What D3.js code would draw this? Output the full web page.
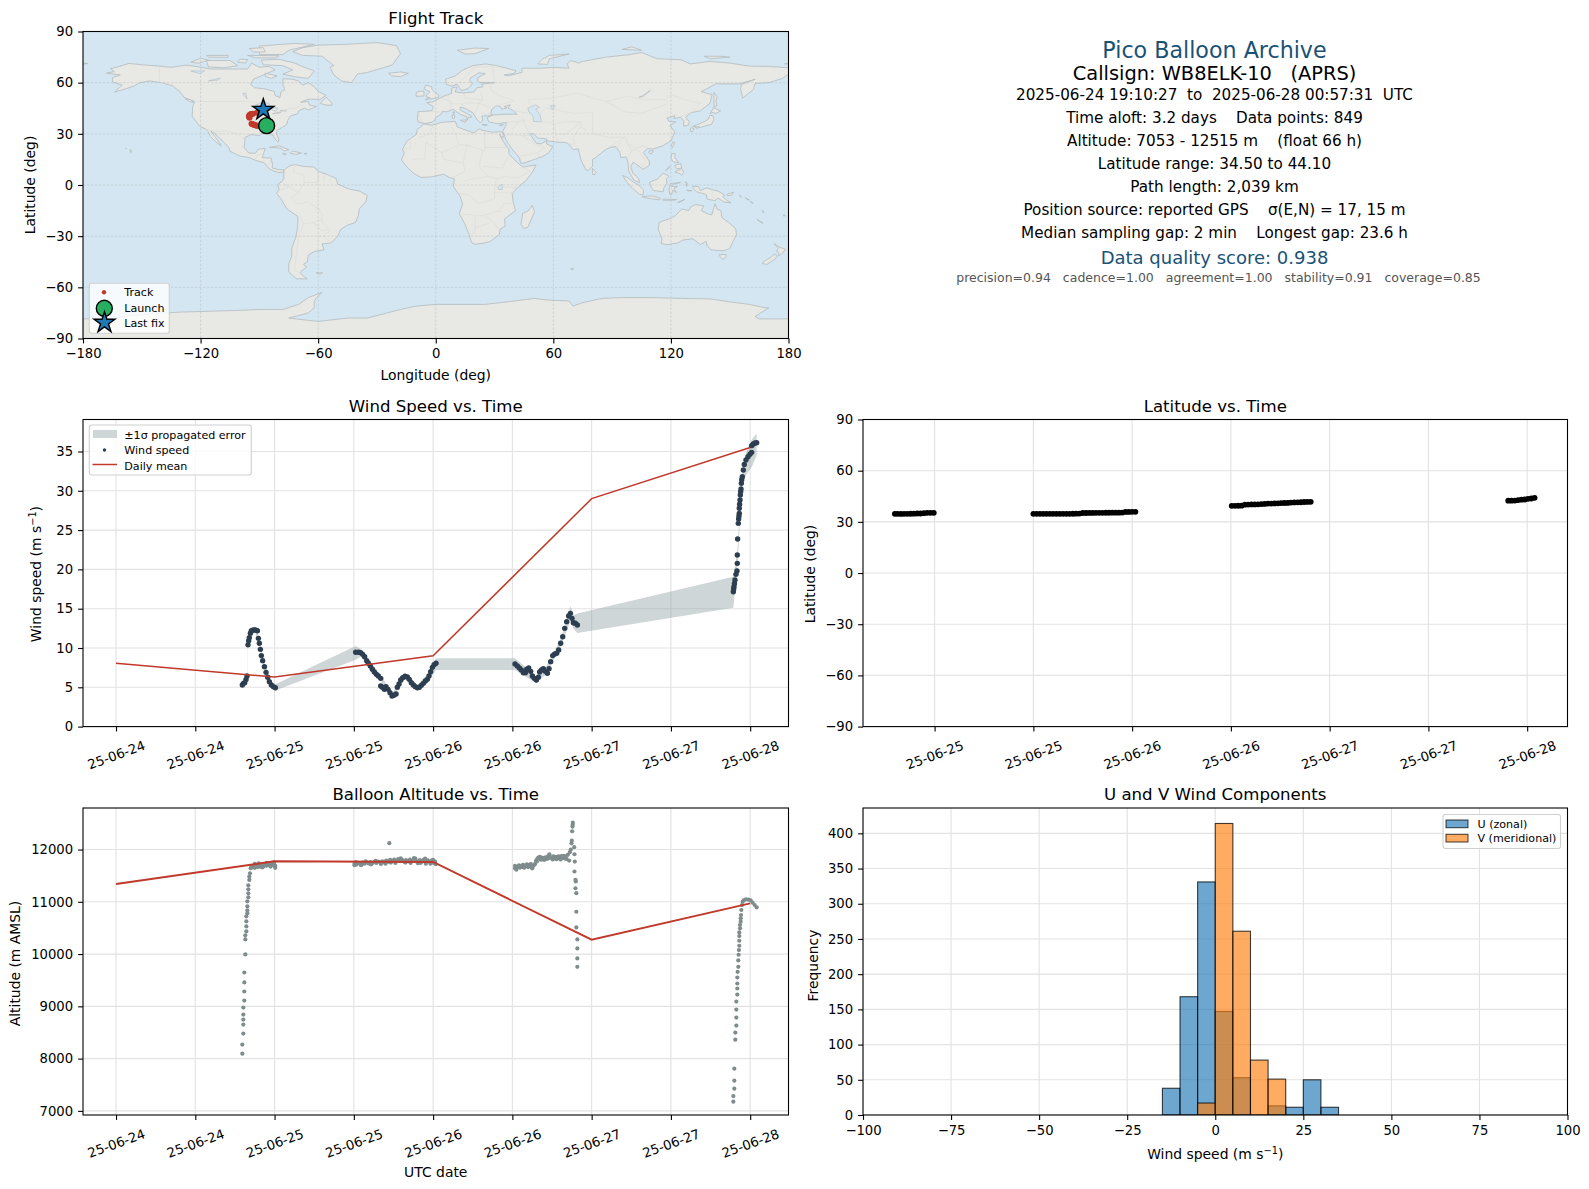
<!DOCTYPE html>
<html lang="en">
<head>
<meta charset="UTF-8">
<title>Pico Balloon Archive</title>
<script src="https://d3js.org/d3.v7.min.js"></script>
<style>
    html, body { margin: 0; padding: 0; background: #fff; }
    svg { display: block; }
    text { font-family: "DejaVu Sans", sans-serif; fill: #000; }
</style>
</head>
<body>
<svg id="fig" width="1589" height="1189"></svg>
<script>
// ---- time ticks, hours after 2025-06-24 00:00 UTC
const dateTickHours = [0, 12, 24, 36, 48, 60, 72, 84, 96];
const dateTickLabels = ["25-06-24", "25-06-24", "25-06-25", "25-06-25", "25-06-26", "25-06-26", "25-06-27", "25-06-27", "25-06-28"];
const latTickHours = [24, 36, 48, 60, 72, 84, 96];
const latTickLabels = ["25-06-25", "25-06-25", "25-06-26", "25-06-26", "25-06-27", "25-06-27", "25-06-28"];

// ---- header text
const headerLines = [
    "2025-06-24 19:10:27  to  2025-06-28 00:57:31  UTC",
    "Time aloft: 3.2 days    Data points: 849",
    "Altitude: 7053 - 12515 m    (float 66 h)",
    "Latitude range: 34.50 to 44.10",
    "Path length: 2,039 km",
    "Position source: reported GPS    σ(E,N) = 17, 15 m",
    "Median sampling gap: 2 min    Longest gap: 23.6 h"
];

// ---- daily means
const meanHours = [0, 24, 48, 72, 96];
const meanWind = [8.05, 6.3, 9.0, 29.0, 35.5];
const meanAlt = [11340, 11775, 11762, 10275, 10970];

// ---- wind speed readings: [hour, m/s]
const windPoints = [
    [19.12,5.29],[19.28,5.5],[19.48,5.59],[19.68,6.0],[19.83,6.44],[19.98,10.4],[20.08,10.93],[20.18,11.32],[20.34,11.87],[20.49,12.2],[20.79,12.29],[21.09,12.29],[21.4,12.2],
    [21.55,11.23],[21.7,10.6],[21.85,9.83],[22.0,9.03],[22.2,8.39],[22.46,7.63],[22.71,6.9],[22.96,6.27],[23.21,5.72],[23.51,5.29],[23.82,5.08],[24.12,4.95],
    [36.28,9.45],[36.69,9.45],[37.04,9.41],[37.34,9.19],[37.64,8.9],[37.95,8.39],[38.2,8.05],[38.5,7.71],[38.8,7.29],[39.1,6.95],[39.41,6.65],[39.71,6.44],[40.07,6.14],
    [40.07,5.17],[40.32,5.0],[40.62,4.74],[40.87,5.08],[41.18,4.74],[41.48,4.32],[41.78,3.9],[42.08,3.98],[42.39,4.15],[42.59,5.0],[42.84,5.42],[43.09,5.93],[43.4,6.23],
    [43.75,6.4],[44.1,6.31],[44.4,6.01],[44.71,5.59],[45.01,5.29],[45.31,5.08],[45.62,4.95],[45.92,5.0],[46.22,5.25],[46.52,5.5],[46.83,5.8],[47.13,6.01],[47.38,6.44],
    [47.63,6.99],[47.89,7.54],[48.14,7.88],[48.44,8.05],
    [60.4,7.97],[60.75,7.71],[61.06,7.46],[61.36,7.2],[61.66,6.86],[61.97,6.86],[62.17,7.29],[62.47,7.46],[62.77,7.03],[63.03,6.44],[63.33,6.14],[63.63,5.93],[63.93,6.27],
    [64.13,6.95],[64.39,7.2],[64.69,7.37],[64.99,7.03],[65.3,6.78],[65.55,7.37],[65.8,8.26],[66.1,9.03],[66.41,9.24],[66.71,9.32],[67.01,9.75],[67.31,10.6],[67.62,11.44],
    [67.92,12.5],[68.22,13.35],[68.52,14.07],[68.78,14.41],[69.03,13.77],[69.23,13.22],[69.53,13.14],[69.84,12.93],
    [93.45,17.16],[93.5,17.5],[93.55,17.8],[93.62,18.2],[93.7,18.65],[93.85,19.37],[94.0,19.79],[94.05,20.77],[94.05,21.83],[94.1,23.86],[94.2,25.86],[94.25,26.41],[94.3,26.8],
    [94.35,27.13],[94.35,27.77],[94.4,28.3],[94.46,28.83],[94.51,29.46],[94.56,29.9],[94.61,30.23],[94.66,30.95],[94.72,31.4],[94.81,31.8],[94.96,32.64],[95.11,33.36],
    [95.36,33.91],[95.67,34.34],[95.97,34.64],[96.22,34.89],[96.22,35.74],[96.47,35.95],[96.73,36.08],[96.98,36.12]
];

// ---- propagated error band, sparse readings
const bandHours = [19.12,19.83,19.98,20.49,21.09,21.55,22.46,23.51,24.12,36.28,37.04,38.2,40.07,41.78,43.75,45.62,47.38,48.44,60.4,63.63,65,67.31,68.78,69.3,69.84,93.45,94.05,94.81,95.36,96.22,96.98];
const bandLow = [4.9,6.0,10.0,11.8,11.9,10.8,7.2,4.9,4.6,8.5,8.9,7.6,5.8,3.6,6.0,4.6,6.0,7.2,7.2,5.5,6.6,10.1,13.4,12.4,11.9,15.13,20.2,31.0,32.0,33.0,34.5];
const bandHigh = [5.7,6.9,10.9,12.6,12.7,11.6,8.1,5.7,5.4,10.25,9.9,8.5,6.6,4.2,6.8,5.3,6.9,8.7,8.7,6.4,7.5,11.1,15.3,14.2,14.4,19.07,22.4,32.6,34.8,36.5,37.3];

// ---- altitude readings: [hour, m]
const altPoints = [
    [19.12,8095],[19.12,8268],[19.27,8479],[19.27,8651],[19.27,8747],[19.27,8843],[19.27,8977],[19.42,9111],[19.42,9284],[19.42,9457],[19.42,9648],[19.57,9993],[19.57,10281],
    [19.57,10358],[19.73,10435],[19.73,10530],[19.73,10626],[19.73,10722],[19.88,10780],[19.88,10837],[19.88,10914],[19.88,11010],[20.03,11087],[20.03,11163],[20.03,11240],
    [20.03,11317],[20.18,11419],[20.18,11483],[20.28,11547],[20.38,11643],[20.53,11675],
    [20.7,11660],[20.85,11690],[21.0,11650],[21.15,11680],[21.3,11700],[21.45,11665],[21.6,11690],[21.75,11710],[21.9,11670],[22.05,11695],[22.2,11715],[22.35,11680],[22.5,11700],
    [22.65,11725],[22.8,11690],[22.95,11710],[23.1,11735],[23.25,11700],[23.4,11720],[23.55,11745],[23.7,11705],[23.85,11725],[24.0,11700],[24.1,11650],[24.1,11690],
    [21.0,11725],[21.6,11735],[22.2,11660],[22.8,11745],[23.4,11675],[23.9,11755],
    [36.1,11700],[36.1,11730],[36.4,11715],[36.7,11745],[37.0,11725],[37.3,11750],[37.6,11730],[37.9,11755],[38.2,11735],[38.5,11760],[38.8,11740],[39.1,11765],[39.4,11745],
    [39.7,11770],[40.0,11750],[40.3,11775],[40.6,11755],[40.9,11790],[41.2,11765],[41.37,12122],[41.5,11805],[41.8,11780],[42.1,11810],[42.4,11785],[42.7,11815],[43.0,11780],
    [43.3,11805],[43.6,11770],[43.9,11800],[44.2,11775],[44.5,11810],[44.8,11780],[45.1,11835],[45.4,11790],[45.7,11740],[46.0,11800],[46.3,11770],[46.6,11810],[46.9,11730],
    [47.2,11795],[47.5,11760],[47.8,11790],[48.1,11745],[48.3,11770],[48.4,11720],
    [36.3,11760],[37.1,11700],[37.8,11775],[38.6,11715],[39.3,11785],[40.1,11725],[40.8,11730],[41.6,11750],[42.3,11745],[43.1,11830],[43.8,11750],[44.6,11745],[45.3,11825],[46.1,11745],[46.8,11825],[47.6,11730],[48.0,11805],
    [60.4,11643],[60.4,11690],[60.6,11615],[60.8,11670],[61.0,11700],[61.2,11660],[61.4,11690],[61.6,11705],[61.8,11655],[62.0,11700],[62.2,11715],[62.4,11665],[62.6,11705],
    [62.8,11720],[63.0,11640],[63.2,11690],[63.4,11720],[63.6,11790],[63.8,11830],[64.0,11850],[64.2,11860],[64.4,11815],[64.6,11840],[64.8,11800],[65.0,11850],[65.2,11820],
    [65.4,11870],[65.6,11910],[65.8,11850],[66.0,11840],[66.2,11870],[66.4,11830],[66.6,11860],[66.8,11840],[67.0,11870],[67.2,11835],[67.4,11875],[67.6,11850],[67.8,11880],[68.0,11870],
    [61.1,11655],[61.7,11660],[62.3,11675],[62.9,11680],[63.7,11770],[64.3,11805],[64.9,11825],[65.5,11835],[66.1,11810],[66.7,11815],[67.3,11810],[67.9,11830],
    [68.2,11820],[68.4,11900],[68.6,11790],[68.7,11950],[68.85,12000],[68.95,12120],[69.0,12170],[69.05,12350],[69.1,12440],[69.13,12475],[69.15,12515],
    [69.36,12045],[69.4,11910],[69.45,11770],[69.4,11580],[69.55,11420],[69.6,11390],[69.55,11260],[69.68,11165],[69.68,10810],[69.68,10510],[69.83,10281],[69.83,10108],[69.83,9917],[69.83,9757],
    [93.45,7175],[93.45,7283],[93.6,7424],[93.6,7577],[93.6,7807],[93.75,8363],[93.75,8498],[93.9,8632],[93.9,8785],[93.9,8939],[93.9,9092],[94.05,9226],[94.05,9341],[94.05,9437],
    [94.05,9552],[94.1,9661],[94.2,9757],[94.2,9878],[94.25,9987],[94.3,10076],[94.35,10159],[94.35,10255],[94.35,10345],[94.35,10415],[94.46,10492],[94.46,10556],[94.56,10620],
    [94.56,10684],[94.61,10748],[94.66,10843],[94.76,10939],[94.86,11003],[95.06,11035],[95.36,11048],[95.72,11042],[96.07,11029],[96.37,10984],[96.68,10939],[96.98,10895]
];

// ---- latitude readings: [hour, deg]
const latPoints = [
    [19.17,34.7],[19.5,34.7],[19.9,34.65],[20.3,34.7],[20.7,34.7],[21.1,34.75],[21.5,34.8],[21.9,34.9],[22.3,34.9],[22.7,35.1],[23.1,35.3],[23.5,35.3],[23.9,35.3],
    [36.0,34.7],[36.4,34.7],[36.8,34.7],[37.2,34.7],[37.6,34.7],[38.0,34.7],[38.4,34.7],[38.8,34.7],[39.2,34.7],[39.6,34.7],[40.0,34.7],[40.4,34.7],[40.8,34.75],[41.2,34.8],[41.6,34.85],
    [42.0,35.2],[42.4,35.2],[42.8,35.25],[43.2,35.25],[43.6,35.3],[44.0,35.3],[44.4,35.3],[44.8,35.35],[45.2,35.35],[45.6,35.4],[46.0,35.4],[46.4,35.4],[46.8,35.45],[47.2,35.8],[47.6,35.85],[48.0,35.9],[48.4,35.9],
    [60.1,39.4],[60.5,39.4],[60.9,39.45],[61.3,39.5],[61.7,40.1],[62.1,40.15],[62.5,40.2],[62.9,40.25],[63.3,40.3],[63.7,40.4],[64.1,40.5],[64.5,40.7],[64.9,40.75],[65.3,40.8],[65.7,40.85],
    [66.1,41.0],[66.5,41.05],[66.9,41.1],[67.3,41.3],[67.7,41.4],[68.1,41.45],[68.5,41.5],[68.9,41.65],[69.3,41.7],[69.7,41.75],
    [93.7,42.4],[94.1,42.45],[94.5,42.5],[94.9,42.8],[95.3,43.0],[95.7,43.1],[96.1,43.5],[96.5,43.7],[96.9,44.1]
];

// ---- histogram, 5 m/s wide bins
const binStarts = [-15, -10, -5, 0, 5, 10, 15, 20, 25, 30];
const uCounts = [38, 168, 331, 147, 53, 0, 13, 11, 50, 11];
const vCounts = [0, 0, 17, 414, 261, 78, 51, 0, 0, 0];
const binWidth = 5;

// ---- flight track on the map: [lon, lat]
const trackPoints = [
    [-86.3,34.7],[-86.8,34.7],[-87.3,34.7],[-87.8,34.8],[-88.3,35.0],[-88.8,35.3],[-89.6,34.7],[-90.2,34.7],[-90.8,34.7],[-91.4,34.8],[-92,35.0],[-92.5,35.2],[-93,35.4],[-93.5,35.6],[-94,35.9],
    [-95,39.4],[-95.2,39.8],[-95.3,40.2],[-95.2,40.6],[-95,41.0],[-94.6,41.4],[-94.2,41.6],[-93.8,41.7],[-93.3,41.8],
    [-91.2,42.4],[-90.7,42.6],[-90.2,43.0],[-89.6,43.4],[-89,43.8],[-88,44.1]
];
const launchPoint = [-86.3, 34.8];
const lastFixPoint = [-88, 44.1];

// ---- map outlines, [lon, lat]
const northAmerica = [[-168,65.6],[-164,66.5],[-166,68.3],[-163,69],[-156.5,71.3],[-150,70.5],[-141,69.7],[-135,69],[-128,70.2],[-124,69.8],[-115,68],[-108,68],[-100,68],[-96,68],[-94,71.5],[-90,69],[-85,69.5],[-82,67.5],[-87,65],[-93,62],[-94.5,59],[-92.5,57],[-88,56.5],[-82.5,55],[-82,52.5],[-79.5,51.3],[-79,54.5],[-77,56],[-78,58.8],[-78,62.3],[-73,62],[-70,61],[-68,58.5],[-65,60],[-62,57.5],[-60,55],[-56,52.5],[-59,50.2],[-65,50.3],[-69,48.5],[-65,49],[-64.5,47],[-61,46],[-65,44],[-67,45],[-70,43.5],[-70.5,41.7],[-74,40.6],[-75.5,38],[-76,35.5],[-78,34],[-81,32],[-81.3,30],[-80,27],[-80.5,25.2],[-82,27],[-83,29.2],[-85,29.7],[-89,30.3],[-90,29],[-94,29.6],[-97.2,28],[-97.5,25],[-97.8,22],[-95.5,18.8],[-92,18.6],[-90.5,21],[-87,21.5],[-88,18],[-88.5,16],[-84,15.8],[-83.3,12],[-83.5,10],[-80,9],[-77.5,8.8],[-77.5,7.5],[-80,7.3],[-83,8.3],[-85.5,10],[-87.5,13],[-92,14.5],[-95,16],[-100,17],[-105,19.8],[-105.5,22],[-109,26],[-112.5,30],[-114.7,31.5],[-113,29],[-110,24],[-109.5,23],[-112,25],[-115,28.5],[-116,31],[-117.2,32.7],[-120.5,34.5],[-122.5,37.5],[-124.3,40.3],[-124,46],[-123,49],[-128,51],[-130.5,54.5],[-134,58],[-140,60],[-146,61],[-151,60],[-154,58],[-158,56.5],[-164,54.5],[-160,58.5],[-165,60.5],[-165,63],[-161,64.5]];
const southAmerica = [[-77.5,8.5],[-75,11],[-72,12],[-68,11],[-62,10.5],[-60,8],[-55,6],[-51,4],[-50,0.5],[-44,-2.5],[-39,-3.5],[-35,-6],[-35.5,-9.5],[-39,-14],[-39.5,-18],[-41,-22],[-45,-23.5],[-48.5,-26],[-50,-30],[-53.5,-34],[-58,-34.5],[-57,-38],[-62,-39],[-65,-41],[-65.5,-45],[-67.5,-46.5],[-66,-48],[-69,-51],[-68.5,-52.5],[-65.5,-55],[-71,-55],[-75,-51],[-75,-46],[-73.5,-42],[-73.5,-37],[-71.5,-31],[-70.5,-25],[-70.3,-18.5],[-76,-14],[-79,-8],[-81.2,-5],[-80,-2.5],[-80.5,0.5],[-78.5,2],[-77.5,4],[-77.5,7]];
const africa = [[-6,35.8],[-2,35],[3,36.8],[10,37.3],[11,34],[15,32.3],[19.5,30.5],[22,32.8],[25,31.7],[29,31],[32.5,31.2],[34.2,31],[34.5,28],[33.2,28.2],[32.6,29.9],[33.7,27],[35.6,23.5],[37.3,21],[37.3,18.5],[39.5,15.5],[43,11.8],[44.5,10.5],[51.2,11.8],[49,7],[46,2.5],[41.5,-1.8],[39,-5],[39.5,-10],[40.7,-15],[35,-20],[35.5,-24],[32.8,-26],[32.5,-29],[28,-33],[25,-34],[20,-34.8],[18.3,-33.8],[17,-29],[14.5,-22],[12,-17],[13.7,-11],[12.2,-6],[9,-1],[9.5,3.5],[7,4.4],[4,6.3],[-2,4.8],[-7.5,4.4],[-11.5,7],[-15,11],[-17.5,14.7],[-16,19],[-17,21],[-14.5,26],[-10,29.5],[-9.5,32.5]];
const eurasia = [[-9,37],[-9.3,39],[-9,43],[-2,43.5],[-1.2,46],[-4.7,48.3],[-1.5,48.7],[1.5,50.5],[4,52],[8,53.7],[8.3,57],[10.7,57.5],[10,54.5],[14,54],[19.5,54.5],[21,57],[24,57.5],[23.5,59.2],[30,60],[23,60],[21.3,61],[21.5,63],[25.3,65.2],[22,65.8],[17.5,62.5],[17.5,60.5],[18.8,59.5],[16.5,56.5],[14,55.5],[12.8,55.5],[11,59],[8,58],[5.5,59],[5,62],[10,64],[14,67.5],[19,70],[25.5,71],[31,70],[41,67],[40,65.5],[35,64.5],[37,64],[44,66],[44,68.5],[54,68.5],[60,69],[68,68.5],[67,71],[69,73],[73,71.5],[75,72.5],[80,73.5],[87,75],[98,76.3],[105,77.7],[113,74],[125,73.5],[130,71],[140,72.5],[150,71.5],[160,69.7],[170,69.5],[180,68.7],[180,65],[177,62.5],[170,60],[163,59.5],[162,56],[156.7,51],[155.5,56],[156,59],[163,62],[155,59.3],[143,59.3],[135.5,54.7],[141,53],[140,48],[135,43.5],[130.5,42.5],[127.5,39.8],[129.4,37],[129,35.2],[126.5,34.4],[126.5,37.5],[125,39.7],[121.5,39],[122,40.7],[118,39.2],[119,37.3],[122.5,37],[119.5,35],[122,31],[120,26],[116,23],[110.5,21],[108,21.5],[106,19],[109,14],[109,11.5],[105.5,9],[105,10],[102.5,12],[100.8,13.4],[99.5,11],[100.5,7],[103.5,4],[104,1.4],[101,3],[98.5,8],[98,14],[97,16.5],[94.5,16],[94,19],[91.8,22.5],[89,22],[87,21],[82,16.5],[80,15],[80,11],[78,8.5],[76.5,9],[74,15],[73,20],[72.7,21.2],[70,20.8],[69,22.5],[67,24.8],[61.5,25.2],[57,25.8],[56.5,27],[52,27.5],[50,30],[48,30],[50,26.5],[51.5,24.3],[54,24.2],[56.4,26],[56.7,24],[59.7,22.5],[57.7,19],[55,17],[52,15.7],[45,12.8],[43.3,12.8],[42.7,16],[39,21],[36,26],[34.9,29.5],[34.2,31.3],[35.8,35],[36,36.7],[32,36],[30,36.3],[27,37],[26.3,39.5],[29,41],[31,41.2],[36,41.5],[41.5,41.5],[39,44],[37,45.2],[38,47],[35,46],[36.3,45.2],[33.5,44.5],[33,46],[31,46.5],[28.7,44.5],[28,42],[29,41.2],[26.5,40.5],[23.5,40.5],[24,38],[22.8,36.5],[21,38.5],[19.5,41.5],[19,42.3],[14.5,45.2],[12.5,45.5],[12.5,44],[16,41.8],[18.5,40],[16.5,39.5],[16,38],[15.8,40],[12.5,41.5],[10.5,43],[8.8,44.4],[6,43],[3.2,43],[3,41.8],[0,39.5],[-0.5,38],[-2,36.8],[-5.5,36]];
const australia = [[114,-22],[113.5,-26],[115.5,-31.5],[115,-34.3],[118,-35],[123.5,-34],[126,-32.3],[131,-31.5],[135,-34.8],[138,-33],[138.5,-35.5],[140.5,-38],[145,-38.5],[147,-38.5],[150,-37.3],[151.5,-33.5],[153.5,-29],[153,-25.5],[149.5,-22],[146,-19],[145.5,-15],[143.5,-14],[142.5,-11],[141.5,-15],[140.8,-17.5],[139,-17],[135.5,-15],[136.8,-12.2],[132.5,-11.5],[130,-13],[129,-15],[125.5,-14],[122.3,-18],[119,-20],[116,-21]];
const antarctica = [[-180,-78.5],[-165,-78.5],[-158,-77],[-145,-75.5],[-130,-74.5],[-115,-74],[-100,-73.5],[-90,-73],[-78,-73],[-70,-70],[-65,-66],[-58,-63],[-60,-65],[-62,-68],[-62,-72],[-65,-75],[-75,-78],[-60,-80],[-45,-78],[-35,-78],[-28,-76],[-18,-73],[-10,-71],[0,-70],[10,-70],[25,-70],[33,-69],[40,-68],[50,-66.5],[58,-67.5],[68,-68],[70,-71],[75,-69],[85,-66.5],[95,-66],[110,-66],[125,-66.5],[140,-66.8],[150,-68.5],[160,-70],[168,-72],[170,-72],[163,-77],[165,-78.5],[180,-78.5],[180,-90],[-180,-90]];
const islands = [
    [[-73,78.2],[-68,80.5],[-60,82],[-45,82.5],[-30,83.5],[-20,81.7],[-18,77],[-20,74],[-22,70.5],[-28,68.3],[-35,66],[-40,65],[-43,60],[-48,61],[-52,64.5],[-54,69],[-52,70],[-58,75.5],[-68,76]],
    [[-80,73.7],[-72,71.5],[-67,69],[-62,66.8],[-65,62.5],[-72,63.5],[-78,65],[-73,67.5],[-78,70],[-88,70.5],[-89,73.3]],
    [[-117,73],[-105,73],[-101,70],[-108,68.7],[-116,69.2]],[[-125,72],[-120,74.3],[-116,73.2],[-121,71.4]],
    [[-90,76.5],[-78,76.5],[-75,79],[-62,82.5],[-72,83],[-90,81.5]],[[-96,76],[-80,75.8],[-82,74.5],[-92,74.6]],
    [[-117,76],[-106,76],[-106,74.8],[-116,75]],[[-95,80],[-88,80.5],[-87,78],[-93,78]],[[-100,73.8],[-96,73.5],[-97,71.5],[-101,72]],
    [[-87,65.5],[-81,64],[-84,62.5],[-87,63.7]],[[-59,47.8],[-56,51.5],[-53,48],[-53,46.7],[-56,46.9]],[[-128,50.7],[-125,50],[-123.5,48.4],[-125.5,48.9]],
    [[-85,22],[-80,23],[-75,20.7],[-77.5,19.9],[-79,21.5],[-83,22]],[[-74.4,18.5],[-73,19.9],[-68.5,18.7],[-71,18]],[[-78.3,18.4],[-76.3,18.2],[-77,17.8]],[[-67.2,18.5],[-65.7,18.4],[-66.5,18]],
    [[-156,20.8],[-155,19.7],[-155.7,19]],[[-158.2,21.6],[-157.7,21.4],[-158,21.2]],
    [[-24,65.5],[-18,66.3],[-14,65.5],[-18,63.5],[-22.5,64]],[[-5.5,50],[1.3,51.2],[1.6,52.7],[-0.2,54],[-2,56],[-2,57.6],[-5,58.6],[-6,56.5],[-3,54.5],[-4.5,53.2],[-5,51.7],[-3,51.3]],
    [[-10,52],[-6,52.2],[-6,55],[-8.5,55],[-10,54]],[[11,79],[20,80.3],[27,80],[20,77],[15,76.8]],[[52,71],[57,70.7],[58,74],[68,76.8],[58,76],[54,73.5]],
    [[95,79.5],[105,79],[100,81]],[[137,75.5],[145,75.5],[150,75],[140,74]],[[178,71],[180,71.5],[180,70.9]],[[-180,71.5],[-177.5,71.2],[-180,70.9]],
    [[142,54.3],[143.5,52],[143,49],[143.5,46.5],[142,46],[142,50]],[[140,41.8],[141.7,45.4],[145.3,43.5],[143,42],[141,42.5]],
    [[131,34.3],[136,36.5],[139,38.5],[140,41],[141.5,40.5],[142,38.5],[140.7,35.5],[137,34.5],[135,33.7],[132.5,34.2]],[[130,33.5],[131.8,33.2],[131,31.2],[130,31.5]],[[132.5,33.8],[134.5,34.2],[133.5,33]],
    [[121,25.2],[122,25],[120.8,22],[120.2,23]],[[109,20],[111,20],[110,18.2],[108.7,19]],[[120.5,18.5],[122.2,18.3],[122,16],[124,13],[121,13.7],[120,16]],
    [[122,7.5],[125.5,9.7],[126.5,7.5],[125.5,5.8],[124,7]],[[122,11.5],[125,12.5],[125.5,10],[123,9.5]],[[117.2,8.4],[119.5,11.3],[119,10]],
    [[109,1.5],[111.5,2.8],[113,3.2],[116,7],[119,5.2],[117.7,3.5],[118,1],[116.5,-1.5],[116,-4],[111,-3.2],[110,-1.5]],
    [[95.3,5.6],[98,4.3],[100.5,2],[103.5,0],[106,-3],[105.8,-5.8],[104,-5.5],[100.5,-2],[98,1]],[[105.3,-6.8],[108.5,-6.5],[111,-6.5],[114.5,-7.8],[114.3,-8.7],[110,-8.1],[106.5,-7.4]],
    [[116,-8.3],[119,-8.4],[122,-8.5],[123,-8.4],[122,-8.9],[118,-9],[116,-8.9]],[[123.5,-10.3],[127,-8.4],[125,-9.8]],
    [[119.8,0.8],[125,1.5],[121,0.4],[120.2,-0.9],[123.3,-0.9],[121.5,-2],[122.8,-4.5],[121,-3],[120.4,-5.5],[119.5,-5.5],[119,-3]],[[127.5,2],[128.5,1],[128,-0.8]],[[128,-3],[130.8,-3.3],[129,-3.5]],
    [[131,-0.8],[134,-0.9],[135,-3.3],[138,-1.7],[144.5,-3.8],[147.5,-6],[146.5,-6.8],[148.5,-9],[150.7,-10.4],[147,-10],[144,-7.7],[142.5,-9.2],[138.5,-8.2],[138,-5.5],[133,-4],[132,-2.8]],
    [[148.5,-5.5],[152,-4.2],[151,-6],[149,-6.3]],[[155,-6],[156,-7],[155.5,-6.9]],[[158,-7.5],[160,-8.8],[159,-8.6]],[[160.5,-9.5],[162,-10.6],[161,-10.4]],[[166.8,-15],[167.5,-16],[167,-16.2]],[[164,-20.2],[167,-22.3],[166,-22]],[[177.5,-17.5],[178.5,-18],[177.5,-18.2]],
    [[144.7,-40.8],[148.2,-40.8],[148,-42.5],[146.5,-43.6],[145.3,-42.5]],[[172.7,-34.4],[175.5,-36.5],[178.5,-37.7],[176.9,-40],[175,-41.6],[175,-39.5],[174,-39],[174.8,-37]],
    [[172.7,-40.5],[174.3,-41.7],[172.8,-43.7],[171,-45],[169,-46.6],[166.5,-46],[168.5,-44],[171,-42.5]],[[80,9.7],[81.8,7.5],[81,6],[80,6.2]],
    [[49.3,-12],[50.4,-15.7],[47,-24.8],[45,-25.5],[43.5,-23],[44.4,-16.5],[47,-15.3]],[[12.5,38],[15.6,38.2],[15,36.7]],[[8.3,41],[9.7,41],[9.5,39.1],[8.5,39]],[[8.7,42.8],[9.5,42.8],[9.2,41.5]],
    [[23.6,35.5],[26.3,35.2],[24.7,34.9]],[[32.3,35],[34.5,35.6],[33.5,34.7]],[[68.7,-49],[70.5,-49.2],[69.5,-49.8]],[[-61,-51.5],[-57.8,-51.5],[-59,-52.3]]
];
const lakes = [
    [[-92,46.8],[-88,48.7],[-85,47.8],[-84.8,46.6],[-87,46.5]],[[-87.8,42],[-86.3,42],[-85,45.7],[-87,45.7]],[[-84,46],[-80.5,45],[-81.7,43.2],[-83.5,44]],
    [[-83.3,41.8],[-79,42.8],[-79.5,42.3]],[[-79.6,43.5],[-76.3,44],[-76.5,43.3]],[[-125,66.8],[-118,67],[-120,65.2]],[[-116,61],[-110,62.8],[-111,61.5]],[[-98.5,53.5],[-96.3,50.5],[-97,53.9]],
    [[47,45],[51,47],[53,45.5],[51,44.5],[53,41.5],[54,37],[50,37.3],[49.5,40.5],[47.5,43]],[[58.5,46.5],[61,46.5],[59.5,44]],[[103.7,51.5],[105,52],[109.5,55.5],[109,55],[106,52]],[[31.7,-1],[34,0.3],[34,-2.5],[32,-2.7]]
];
const borders = [
    [[-123,49],[-95,49],[-89,48],[-84,46.5],[-82.5,43],[-79,43],[-75,45],[-71,45],[-69,47.3],[-67.5,45.5]],[[-141,69.7],[-141,60.3],[-135,59],[-130,55]],[[-117,32.5],[-111,31.3],[-106.5,31.8],[-101,29.7],[-97.2,26]],
    [[-92.2,14.5],[-91,17.5],[-89,17.8]],[[-88,15.8],[-87.5,13]],[[-84,15],[-85.7,11]],
    [[-72,11.8],[-72.5,7.5],[-67.5,6],[-67,1.5]],[[-60,5],[-60,1.5],[-67,1.5],[-70,-4.3],[-74,-7.5],[-70.5,-11],[-65,-10],[-60,-14],[-58,-17],[-58,-22],[-54.5,-25.5],[-54,-27],[-57.6,-30],[-53.5,-33.5]],
    [[-80,-3.4],[-75,-1],[-70,-4.3]],[[-78,1.2],[-75,-1]],[[-67.5,-22.8],[-70,-30],[-71,-40],[-72,-50],[-69,-52]],[[-69.5,-17.5],[-67.5,-22.8],[-62.5,-22],[-58,-20]],[[-62.5,-22],[-58,-27],[-54.5,-25.5]],[[-60,8.5],[-60,5]],[[-57,6],[-57,2]],[[-54,5.8],[-54,2.2]],
    [[-8.7,27.7],[-3,30],[-1.5,35]],[[-17,21.3],[-13,21.3],[-13,27.7]],[[-5,25],[3,19],[12,23.5],[10,30],[8,34]],[[12,23.5],[16,23.5],[25,20],[25,31.5]],[[25,22],[37,22]],[[-12,15],[-5.5,15.5],[-5,25]],[[3,19],[4,15],[14,13],[15,8],[9,4.5]],[[16,23.5],[14,13]],
    [[24,20],[22,11],[27,5],[31,3.5],[35,5],[42,4],[48,8],[44,10.5]],[[34,9.5],[36,15],[38,18]],[[24,11],[34,10]],[[14,2],[18,3.5],[27,5]],[[12,-5],[17,-6],[22,-11],[30,-8],[30,-1],[31,3.5]],[[34,-1],[41,-1.8]],[[30,-4.5],[39.3,-4.7]],[[40,-10.5],[34.8,-11],[33,-14]],[[12,-17],[24,-18],[33,-15]],[[20,-18],[20,-28],[17,-29]],[[25,-18],[30,-22.5],[32,-26]],[[20,-25],[27,-22.5]],
    [[-9,42],[-7,37]],[[-2,43.2],[3,42.5]],[[2.5,51],[8,49],[7.5,44]],[[7,53.5],[6,50],[8,47.5],[13,47.5],[14.5,45.5]],[[14.5,54],[15,51],[24,50],[22,48],[28,45.5]],[[24,50],[23,54]],[[30,46],[40,49.5],[33,52],[28,56],[28,60]],[[22,48],[16,48],[13,47.5]],[[24,41],[28,42]],[[20,42],[22.5,48]],[[11,59],[20,69]],[[20,69],[29,69.5],[30,60]],
    [[40,43.5],[48,41.8]],[[49,46],[47,50],[60,51],[72,54],[80,51],[87,49],[98,52],[107,50],[117,50],[120,53],[127,50],[135,48],[131,43]],[[87,49],[96,43],[105,42],[112,45],[117,47],[119,50]],[[80,42.5],[80,30],[88,28],[97,28],[98,24],[102,21.5],[106,23],[108,21.5]],[[53,42],[56,45],[62,44],[70,42],[80,42.5]],[[53,37.5],[61,36],[61,30],[62,25.5]],[[61,36],[66,37],[74,37],[74,34],[77,32]],[[74,34],[70,28],[71,24],[68.5,23.8]],[[61,30],[66,29.5],[70,33],[74,37]],
    [[44,39.5],[46,34],[48,30.2]],[[36,37],[42,37],[46,38]],[[39,32.5],[42,37]],[[36,29.5],[44,29],[48,29]],[[44,29],[52,23],[55.5,22],[52,19],[43,16.8]],[[52,19],[53,16.6]],[[88,22],[92,25],[97,28]],[[92,21],[94,25]],[[98,15],[100,20],[102,21.5],[105,18],[107,14],[105,10.5]],[[100,20],[98,24]],[[124.5,40],[130.5,42.5]],[[126.5,38],[128.5,38.5]],[[141,-2.6],[141,-9.1]]
];

// ---- tick values
const lonTicks = [-180, -120, -60, 0, 60, 120, 180];
const latTicks = [-90, -60, -30, 0, 30, 60, 90];
const windTicks = [0, 5, 10, 15, 20, 25, 30, 35];
const altTicks = [7000, 8000, 9000, 10000, 11000, 12000];
const freqTicks = [0, 50, 100, 150, 200, 250, 300, 350, 400];
const histTicks = [-100, -75, -50, -25, 0, 25, 50, 75, 100];

// ---- colours
const RED = "#c0392b", NAVY = "#2c3e50", SLATE = "#7f8c8d", TITLE_BLUE = "#1a5276";
const BLUE = "#1f77b4", ORANGE = "#ff7f0e", GREEN = "#27ae60", GRID = "#e2e2e2";

const svg = d3.select("#fig");

// panel boxes in figure pixels
const LEFT = { x0: 83, x1: 788.5 }, RIGHT = { x0: 863, x1: 1567.5 };
const ROW1 = { y0: 31.5, y1: 338.5 }, ROW2 = { y0: 419.5, y1: 726.6 }, ROW3 = { y0: 808, y1: 1115 };

let clipCount = 0;

// make a panel: group, grid, and a function that draws axes + frame on top at the end
function makePanel(col, row, title, xScale, yScale, xTicks, yTicks, opts = {}) {
    const g = svg.append("g");
    const clipId = "clip" + (clipCount++);
    g.append("clipPath").attr("id", clipId).append("rect")
        .attr("x", col.x0).attr("y", row.y0).attr("width", col.x1 - col.x0).attr("height", row.y1 - row.y0);
    const plot = g.append("g").attr("clip-path", `url(#${clipId})`);

    if (opts.background) {
        plot.append("rect").attr("x", col.x0).attr("y", row.y0).attr("width", col.x1 - col.x0).attr("height", row.y1 - row.y0).attr("fill", opts.background);
    }
    const gridLayer = plot.append("g");
    const drawGrid = layer => {
        layer.attr("stroke-opacity", opts.gridOpacity || 1);
        layer.selectAll(".gx").data(xTicks).enter().append("line").attr("class", "gx")
            .attr("x1", d => xScale(d)).attr("x2", d => xScale(d)).attr("y1", row.y0).attr("y2", row.y1)
            .attr("stroke", opts.gridColor || GRID).attr("stroke-width", opts.gridWidth || 1.1).attr("stroke-dasharray", opts.gridDash || null);
        layer.selectAll(".gy").data(yTicks).enter().append("line").attr("class", "gy")
            .attr("y1", d => yScale(d)).attr("y2", d => yScale(d)).attr("x1", col.x0).attr("x2", col.x1)
            .attr("stroke", opts.gridColor || GRID).attr("stroke-width", opts.gridWidth || 1.1).attr("stroke-dasharray", opts.gridDash || null);
    };
    if (!opts.gridOnTop) drawGrid(gridLayer);

    g.append("text").attr("x", (col.x0 + col.x1) / 2).attr("y", row.y0 - 8)
        .attr("text-anchor", "middle").attr("font-size", 16.6).text(title);

    return {
        plot,
        finish() {
            if (opts.gridOnTop) drawGrid(plot.append("g"));
            const xAxis = d3.axisBottom(xScale).tickValues(xTicks).tickSizeOuter(0).tickSize(4.9).tickPadding(5.5);
            if (opts.xLabels) xAxis.tickFormat((d, i) => opts.xLabels[i]);
            const ax = g.append("g").attr("transform", `translate(0,${row.y1})`).call(xAxis);
            const yAxis = d3.axisLeft(yScale).tickValues(yTicks).tickSizeOuter(0).tickSize(4.9).tickPadding(5).tickFormat(d3.format("d"));
            const ay = g.append("g").attr("transform", `translate(${col.x0},0)`).call(yAxis);
            [ax, ay].forEach(a => {
                a.select(".domain").remove();
                a.attr("font-family", null).attr("font-size", null);
                a.selectAll("text").attr("font-size", 13.2);
                a.selectAll("line").attr("stroke", "#000").attr("stroke-width", 1.1);
            });
            if (opts.xLabels) {
                // slanted date labels, turned round their own centre
                ax.selectAll("text").attr("text-anchor", "middle").attr("dy", null).attr("y", 29)
                    .attr("dominant-baseline", "middle").attr("transform", "rotate(-20,0,29)");
            }
            g.append("rect").attr("x", col.x0).attr("y", row.y0).attr("width", col.x1 - col.x0).attr("height", row.y1 - row.y0)
                .attr("fill", "none").attr("stroke", "#000").attr("stroke-width", 1.1);
        }
    };
}

function axisLabelX(x, y, text) {
    return svg.append("text").attr("x", x).attr("y", y).attr("text-anchor", "middle").attr("font-size", 13.9).text(text);
}
function axisLabelY(x, y, text, sup, tail) {
    const t = svg.append("text").attr("transform", `translate(${x},${y}) rotate(-90)`).attr("text-anchor", "middle").attr("font-size", 13.9).text(text);
    if (sup) {
        t.append("tspan").attr("dy", -5).attr("font-size", 9.8).text(sup);
        t.append("tspan").attr("dy", 5).text(tail);
    }
    return t;
}
function legendBox(x0, y0, x1, y1) {
    svg.append("rect").attr("x", x0).attr("y", y0).attr("width", x1 - x0).attr("height", y1 - y0).attr("rx", 2.5)
        .attr("fill", "#fff").attr("fill-opacity", 0.8).attr("stroke", "#d0d0d0").attr("stroke-width", 1.1);
}
function legendText(x, y, text) {
    svg.append("text").attr("x", x).attr("y", y).attr("dominant-baseline", "middle").attr("font-size", 11.1).text(text);
}

// ---- Flight Track
{
    const x = d3.scaleLinear().domain([-180, 180]).range([LEFT.x0, LEFT.x1]);
    const y = d3.scaleLinear().domain([-90, 90]).range([ROW1.y1, ROW1.y0]);
    const p = makePanel(LEFT, ROW1, "Flight Track", x, y, lonTicks, latTicks, {
        background: "#d4e6f1", gridOnTop: true, gridColor: "#a9b2b5", gridWidth: 0.7, gridDash: "2.5,1.5", gridOpacity: 0.5
    });
    const path = d3.line().x(d => x(d[0])).y(d => y(d[1]));
    const ring = d => path(d) + "Z";
    const land = [northAmerica, southAmerica, africa, eurasia, australia, antarctica, ...islands];
    p.plot.append("g").selectAll("path").data(land).enter().append("path").attr("d", ring)
        .attr("fill", "#e8e8e4").attr("stroke", "#b4bbbe").attr("stroke-width", 0.8).attr("stroke-linejoin", "round");
    p.plot.append("g").selectAll("path").data(lakes).enter().append("path").attr("d", ring)
        .attr("fill", "#d4e6f1").attr("stroke", "#b4bbbe").attr("stroke-width", 0.6);
    p.plot.append("g").selectAll("path").data(borders).enter().append("path").attr("d", path)
        .attr("fill", "none").attr("stroke", "#dcddd9").attr("stroke-width", 0.7);
    p.finish();

    const marks = svg.append("g");
    marks.selectAll("circle").data(trackPoints).enter().append("circle")
        .attr("cx", d => x(d[0])).attr("cy", d => y(d[1])).attr("r", 3).attr("fill", RED);
    marks.append("circle").attr("cx", x(launchPoint[0])).attr("cy", y(launchPoint[1])).attr("r", 8)
        .attr("fill", GREEN).attr("stroke", "#000").attr("stroke-width", 1.4);
    marks.append("path").attr("d", d3.symbol(d3.symbolStar, 136)())
        .attr("transform", `translate(${x(lastFixPoint[0])},${y(lastFixPoint[1])})`)
        .attr("fill", BLUE).attr("stroke", "#000").attr("stroke-width", 1.4);

    axisLabelX((LEFT.x0 + LEFT.x1) / 2, 380, "Longitude (deg)");
    axisLabelY(35, (ROW1.y0 + ROW1.y1) / 2, "Latitude (deg)");

    legendBox(89.3, 283.3, 169.3, 333.3);
    svg.append("circle").attr("cx", 104).attr("cy", 292.3).attr("r", 2.2).attr("fill", RED);
    svg.append("circle").attr("cx", 104.3).attr("cy", 308.3).attr("r", 8).attr("fill", GREEN).attr("stroke", "#000").attr("stroke-width", 1.4);
    svg.append("path").attr("d", d3.symbol(d3.symbolStar, 136)()).attr("transform", "translate(104.5,322.7)")
        .attr("fill", BLUE).attr("stroke", "#000").attr("stroke-width", 1.4);
    legendText(124.3, 292.5, "Track");
    legendText(124.3, 308.5, "Launch");
    legendText(124.3, 323.5, "Last fix");
}

// ---- header block
{
    const cx = 1214.5;
    svg.append("text").attr("x", cx).attr("y", 58).attr("text-anchor", "middle").attr("font-size", 22.2).style("fill", TITLE_BLUE).text("Pico Balloon Archive");
    svg.append("text").attr("x", cx).attr("y", 79.5).attr("text-anchor", "middle").attr("font-size", 19.4).style("white-space", "pre").text("Callsign: WB8ELK-10   (APRS)");
    const ys = [99.5, 122.5, 145.5, 169, 192, 215, 238];
    headerLines.forEach((t, i) => {
        svg.append("text").attr("x", cx).attr("y", ys[i]).attr("text-anchor", "middle").attr("font-size", 15.2).style("white-space", "pre").text(t);
    });
    svg.append("text").attr("x", cx).attr("y", 263.5).attr("text-anchor", "middle").attr("font-size", 18).style("fill", TITLE_BLUE).text("Data quality score: 0.938");
    svg.append("text").attr("x", cx + 4).attr("y", 281.5).attr("text-anchor", "middle").attr("font-size", 12.5).style("fill", "#555").style("white-space", "pre")
        .text("precision=0.94   cadence=1.00   agreement=1.00   stability=0.91   coverage=0.85");
}

// time scale shared by the two left charts
const xTime = d3.scaleLinear().domain([-5, 101.8]).range([LEFT.x0, LEFT.x1]);

// ---- Wind Speed vs. Time
{
    const y = d3.scaleLinear().domain([0, 39.07]).range([ROW2.y1, ROW2.y0]);
    const p = makePanel(LEFT, ROW2, "Wind Speed vs. Time", xTime, y, dateTickHours, windTicks, { xLabels: dateTickLabels });
    const area = d3.area().x((d, i) => xTime(bandHours[i])).y0((d, i) => y(bandLow[i])).y1((d, i) => y(bandHigh[i]));
    p.plot.append("path").attr("d", area(bandHours)).attr("fill", "#95a5a6").attr("fill-opacity", 0.45);
    p.plot.append("g").selectAll("circle").data(windPoints).enter().append("circle")
        .attr("cx", d => xTime(d[0])).attr("cy", d => y(d[1])).attr("r", 2.7).attr("fill", NAVY);
    const line = d3.line().x((d, i) => xTime(meanHours[i])).y(d => y(d));
    p.plot.append("path").attr("d", line(meanWind)).attr("fill", "none").attr("stroke", RED).attr("stroke-width", 1.5);
    p.finish();
    axisLabelY(41, (ROW2.y0 + ROW2.y1) / 2 + 1, "Wind speed (m s", "−1", ")");

    legendBox(89.3, 425, 251.3, 475);
    svg.append("rect").attr("x", 93).attr("y", 430).attr("width", 24).attr("height", 8).attr("fill", "#95a5a6").attr("fill-opacity", 0.45);
    svg.append("circle").attr("cx", 104.5).attr("cy", 450).attr("r", 1.7).attr("fill", NAVY);
    svg.append("line").attr("x1", 92.5).attr("x2", 117).attr("y1", 464.5).attr("y2", 464.5).attr("stroke", RED).attr("stroke-width", 1.5);
    legendText(124.3, 435.5, "±1σ propagated error");
    legendText(124.3, 450.5, "Wind speed");
    legendText(124.3, 466.5, "Daily mean");
}

// ---- Latitude vs. Time
{
    const x = d3.scaleLinear().domain([15.3, 100.9]).range([RIGHT.x0, RIGHT.x1]);
    const y = d3.scaleLinear().domain([-90, 90]).range([ROW2.y1, ROW2.y0]);
    const p = makePanel(RIGHT, ROW2, "Latitude vs. Time", x, y, latTickHours, latTicks, { xLabels: latTickLabels });
    p.plot.append("g").selectAll("circle").data(latPoints).enter().append("circle")
        .attr("cx", d => x(d[0])).attr("cy", d => y(d[1])).attr("r", 2.9).attr("fill", "#000");
    p.finish();
    axisLabelY(815, (ROW2.y0 + ROW2.y1) / 2 + 1, "Latitude (deg)");
}

// ---- Balloon Altitude vs. Time
{
    const y = d3.scaleLinear().domain([6921, 12795]).range([ROW3.y1, ROW3.y0]);
    const p = makePanel(LEFT, ROW3, "Balloon Altitude vs. Time", xTime, y, dateTickHours, altTicks, { xLabels: dateTickLabels });
    p.plot.append("g").selectAll("circle").data(altPoints).enter().append("circle")
        .attr("cx", d => xTime(d[0])).attr("cy", d => y(d[1])).attr("r", 2.1).attr("fill", SLATE);
    const line = d3.line().x((d, i) => xTime(meanHours[i])).y(d => y(d));
    p.plot.append("path").attr("d", line(meanAlt)).attr("fill", "none").attr("stroke", RED).attr("stroke-width", 1.9);
    p.finish();
    axisLabelX((LEFT.x0 + LEFT.x1) / 2, 1177, "UTC date");
    axisLabelY(20, (ROW3.y0 + ROW3.y1) / 2 + 2, "Altitude (m AMSL)");
}

// ---- U and V Wind Components
{
    const x = d3.scaleLinear().domain([-100, 100]).range([RIGHT.x0, RIGHT.x1]);
    const y = d3.scaleLinear().domain([0, 436]).range([ROW3.y1, ROW3.y0]);
    const p = makePanel(RIGHT, ROW3, "U and V Wind Components", x, y, histTicks, freqTicks);
    const drawBars = (counts, color) => {
        const bins = binStarts.map((start, i) => ({ start, count: counts[i] })).filter(b => b.count > 0);
        p.plot.append("g").selectAll("rect").data(bins).enter().append("rect")
            .attr("x", b => x(b.start))
            .attr("width", x(binWidth) - x(0))
            .attr("y", b => y(b.count)).attr("height", b => y(0) - y(b.count))
            .attr("fill", color).attr("fill-opacity", 0.65)
            .attr("stroke", "#000").attr("stroke-opacity", 0.75).attr("stroke-width", 1.1);
    };
    drawBars(uCounts, BLUE);
    drawBars(vCounts, ORANGE);
    p.finish();
    axisLabelY(818, (ROW3.y0 + ROW3.y1) / 2 + 4, "Frequency");
    const xl = axisLabelX((RIGHT.x0 + RIGHT.x1) / 2, 1159, "Wind speed (m s");
    xl.append("tspan").attr("dy", -5).attr("font-size", 9.8).text("−1");
    xl.append("tspan").attr("dy", 5).text(")");

    legendBox(1443, 814.5, 1560.5, 848.5);
    svg.append("rect").attr("x", 1446).attr("y", 820).attr("width", 22).attr("height", 7.7).attr("fill", BLUE).attr("fill-opacity", 0.65).attr("stroke", "#000").attr("stroke-opacity", 0.75);
    svg.append("rect").attr("x", 1446).attr("y", 834.3).attr("width", 22).attr("height", 7.7).attr("fill", ORANGE).attr("fill-opacity", 0.65).attr("stroke", "#000").attr("stroke-opacity", 0.75);
    legendText(1477.5, 824.5, "U (zonal)");
    legendText(1477.5, 839, "V (meridional)");
}
</script>
</body>
</html>
